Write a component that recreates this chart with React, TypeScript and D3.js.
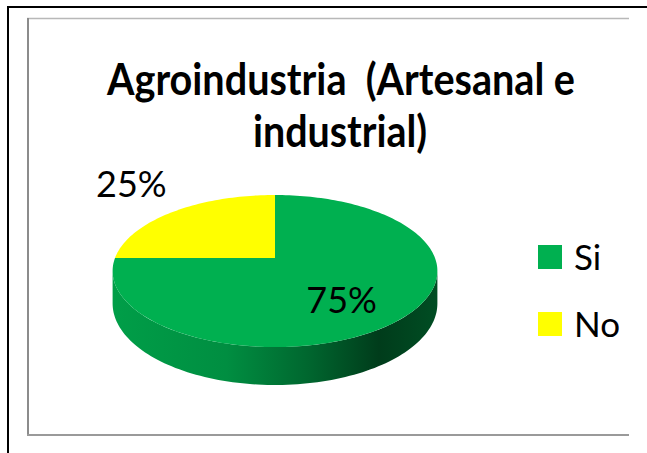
import React, { useEffect, useRef } from "react";
import * as d3 from "d3";

const categories = ["Si", "No"];
const values = [75, 25];
const sliceColors = ["#00B050", "#FFFF00"];
const titleLines = ["Agroindustria  (Artesanal e", "industrial)"];

const width = 647;
const height = 453;

// perspective pie: center, radius, vertical squash, perspective, depth
const cx = 275;
const cy = 258;
const R = 160;
const K = 73.8;
const P = -0.171;
const D = 31.5;

function proj(a: number, f = 1, drop = 0): [number, number] {
  const u = Math.sin(a) * f;
  const v = -Math.cos(a) * f;
  const s = 1 / (1 + P * v);
  const s1 = 1 / (1 + P * -Math.cos(a));
  return [cx + R * u * s, cy + K * v * s + drop * D * s1];
}

function App() {
  const ref = useRef<SVGSVGElement>(null);

  useEffect(() => {
    const svg = d3.select(ref.current);
    svg.selectAll("*").remove();

    svg.append("rect").attr("width", width).attr("height", height).attr("fill", "#fff");

    // outer black frame
    svg.append("path").attr("d", "M8,453V7H647").attr("fill", "none").attr("stroke", "#000").attr("stroke-width", 2);
    // inner chart frame
    svg.append("path").attr("d", "M27,18.5H629").attr("stroke", "#b8b8b8").attr("stroke-width", 1.5);
    svg.append("path").attr("d", "M28,18V436").attr("stroke", "#8c8c8c").attr("stroke-width", 2);
    svg.append("path").attr("d", "M27,435H629").attr("stroke", "#9a9a9a").attr("stroke-width", 2);

    // title, fitted to the reference widths
    const titleWidths = [468, 174];
    svg
      .append("g")
      .selectAll("text")
      .data(titleLines)
      .join("text")
      .attr("x", (d, i) => (i === 0 ? 341 : 340))
      .attr("y", (d, i) => 95 + i * 52)
      .attr("text-anchor", "middle")
      .attr("font-family", "Lato, sans-serif")
      .attr("font-weight", "bold")
      .attr("font-size", 43)
      .attr("textLength", (d, i) => titleWidths[i])
      .attr("lengthAdjust", "spacingAndGlyphs")
      .style("white-space", "pre")
      .text((d) => d);

    const pie = d3.pie<number>().sort(null).value((d) => d);
    const arcs = pie(values);

    // silhouette extremes
    const samples = d3.range(0, 721).map((i) => (i / 720) * Math.PI * 2);
    const aRight = samples[d3.maxIndex(samples, (a) => proj(a)[0])];
    const aLeft = samples[d3.minIndex(samples, (a) => proj(a)[0])];
    const xMin = proj(aLeft)[0];
    const xMax = proj(aRight)[0];

    const defs = svg.append("defs");
    arcs.forEach((a, i) => {
      const c = d3.color(sliceColors[i])!;
      const g = defs
        .append("linearGradient")
        .attr("id", "side" + i)
        .attr("gradientUnits", "userSpaceOnUse")
        .attr("x1", xMin)
        .attr("x2", xMax)
        .attr("y1", 0)
        .attr("y2", 0);
      [
        [0, 0.3],
        [0.35, 0.6],
        [0.6, 1.5],
        [0.82, 3],
        [1, 2.3],
      ].forEach(([o, k]) => {
        g.append("stop").attr("offset", o).attr("stop-color", c.darker(k).formatHex());
      });
    });

    const line = d3.line();
    const steps = (a0: number, a1: number) => {
      const n = Math.max(2, Math.ceil(((a1 - a0) / (Math.PI * 2)) * 240));
      return d3.range(n + 1).map((j) => a0 + ((a1 - a0) * j) / n);
    };

    // sides (front only)
    arcs.forEach((a, i) => {
      const a0 = Math.max(a.startAngle, aRight);
      const a1 = Math.min(a.endAngle, aLeft);
      if (a1 <= a0) return;
      const top = steps(a0, a1).map((t) => proj(t));
      const bot = steps(a0, a1).reverse().map((t) => proj(t, 1, 1));
      svg
        .append("path")
        .attr("d", line([...top, ...bot]) + "Z")
        .attr("fill", `url(#side${i})`);
    });

    // top faces
    arcs.forEach((a, i) => {
      const pts = [proj(0, 0), ...steps(a.startAngle, a.endAngle).map((t) => proj(t))];
      svg
        .append("path")
        .attr("d", line(pts) + "Z")
        .attr("fill", sliceColors[i]);
    });

    // data labels
    arcs.forEach((a, i) => {
      const mid = (a.startAngle + a.endAngle) / 2;
      const inside = a.endAngle - a.startAngle > Math.PI;
      const [x, y] = proj(mid, inside ? 0.55 : 1.5);
      svg
        .append("text")
        .attr("x", x)
        .attr("y", y + (inside ? 10 : -9))
        .attr("text-anchor", "middle")
        .attr("dominant-baseline", "central")
        .attr("font-family", "Lato, sans-serif")
        .attr("font-size", 36)
        .attr("fill", "#000")
        .text(Math.round((a.value / d3.sum(values)) * 100) + "%");
    });

    // legend
    const leg = svg
      .append("g")
      .selectAll("g")
      .data(categories)
      .join("g")
      .attr("transform", (d, i) => `translate(538,${245 + i * 67})`);
    leg
      .append("rect")
      .attr("width", 24)
      .attr("height", 24)
      .attr("fill", (d, i) => sliceColors[i]);
    leg
      .append("text")
      .attr("x", 36)
      .attr("y", 25)
      .attr("font-family", "Lato, sans-serif")
      .attr("font-size", 35)
      .text((d) => d);
  }, []);

  return (
    <svg
      ref={ref}
      width={width}
      height={height}
      style={{ position: "absolute", left: 0, top: 0 }}
    />
  );
}

export default App;
